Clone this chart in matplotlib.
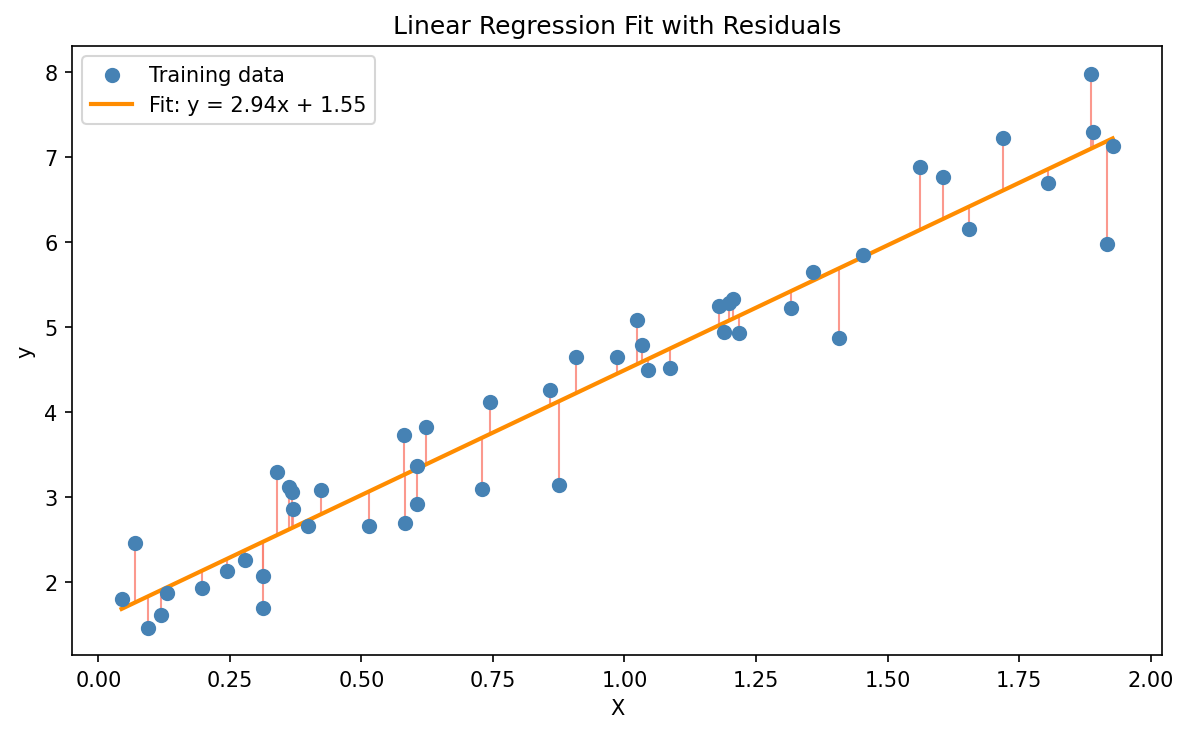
import matplotlib
matplotlib.use('Agg')
import matplotlib.pyplot as plt
import numpy as np

# Training data
X = np.array([0.044, 0.070, 0.095, 0.118, 0.131, 0.196, 0.245, 0.279, 0.312, 0.312,
              0.340, 0.363, 0.367, 0.369, 0.399, 0.424, 0.515, 0.580, 0.582, 0.606,
              0.606, 0.622, 0.730, 0.745, 0.859, 0.876, 0.907, 0.985, 1.023, 1.034,
              1.044, 1.087, 1.179, 1.190, 1.198, 1.207, 1.217, 1.317, 1.359, 1.407,
              1.454, 1.561, 1.606, 1.654, 1.720, 1.806, 1.886, 1.890, 1.918, 1.928])
y = np.array([1.79, 2.45, 1.46, 1.61, 1.87, 1.93, 2.12, 2.25, 2.07, 1.69,
              3.29, 3.11, 3.06, 2.86, 2.66, 3.08, 2.65, 3.73, 2.69, 3.36,
              2.91, 3.82, 3.09, 4.12, 4.26, 3.14, 4.64, 4.65, 5.08, 4.79,
              4.49, 4.52, 5.24, 4.94, 5.28, 5.33, 4.93, 5.22, 5.65, 4.87,
              5.84, 6.88, 6.76, 6.15, 7.22, 6.69, 7.98, 7.29, 5.98, 7.13])

slope = 2.94
intercept = 1.55

y_pred = slope * X + intercept
order = np.argsort(X)

fig, ax = plt.subplots(figsize=(7.874, 4.893), dpi=150)
fig.subplots_adjust(left=0.061, right=0.984, top=0.936, bottom=0.106)

# residuals
ax.vlines(X, y_pred, y, colors='salmon', alpha=0.8, linewidth=1, zorder=1)
ax.scatter(X, y, s=40, color='steelblue', label='Training data', zorder=3)
ax.plot(X[order], y_pred[order], color='darkorange', linewidth=2,
        label=f'Fit: y = {slope:.2f}x + {intercept:.2f}', zorder=2)

ax.set_xlabel('X')
ax.set_ylabel('y')
ax.set_title('Linear Regression Fit with Residuals')
ax.legend(loc='upper left')

plt.savefig('out.png', dpi=150)
